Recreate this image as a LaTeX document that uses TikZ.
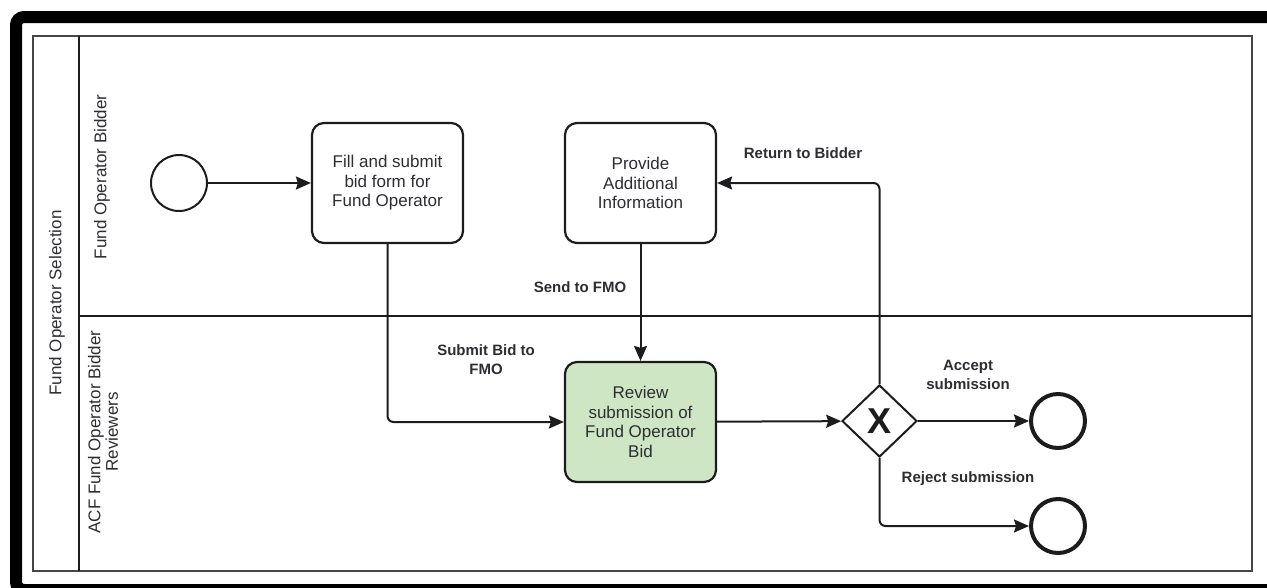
\documentclass[tikz,border=0pt]{standalone}
\usepackage{fontspec}
\setmainfont{Liberation Sans}
\usetikzlibrary{arrows.meta,shapes.geometric}
\definecolor{tgreen}{RGB}{207,230,196}
\definecolor{ink}{RGB}{28,28,30}
\definecolor{txt}{RGB}{45,45,50}
\definecolor{poolc}{RGB}{70,70,74}
\begin{document}
\begin{tikzpicture}[x=1pt,y=-1pt,
  task/.style={draw=ink, rounded corners=12pt, line width=2.2pt, minimum width=151pt, minimum height=120pt, align=center, text=txt, inner sep=2pt, font=\fontsize{17}{19.5}\selectfont},
  startev/.style={circle, draw=ink, line width=2pt, minimum size=56pt, inner sep=0pt},
  endev/.style={circle, draw=ink, line width=4pt, minimum size=54pt, inner sep=0pt},
  gwnode/.style={diamond, aspect=1, draw=ink, line width=2pt, minimum width=75pt, minimum height=72pt, inner sep=0pt, text=ink, font=\fontsize{36}{36}\bfseries},
  conn/.style={draw=ink, line width=2pt, rounded corners=6pt, -{Stealth[length=15pt,width=13pt,inset=2pt]}},
  elbl/.style={text=txt, align=center, inner sep=0pt, font=\fontsize{15}{19}\bfseries},
  lanelbl/.style={text=txt, rotate=90, align=center, inner sep=0pt, font=\fontsize{17}{17.5}\selectfont}
]
\useasboundingbox (0,0) rectangle (1267,587);
\clip (0,0) rectangle (1267,587);
% outer black frame
\draw[line width=12pt, rounded corners=8pt] (16,17) rectangle (1300,590);
% pool and lanes
\draw[poolc, line width=2pt] (33,36) rectangle (1252,571);
\draw[ink, line width=2pt] (79,36) -- (79,571);
\draw[ink, line width=2pt] (79,316) -- (1252,316);
\node[lanelbl] (pool) at (57,303) {Fund Operator Selection};
\node[lanelbl] (lane1) at (102,177) {Fund Operator Bidder};
\node[lanelbl] (lane2) at (103,432) {ACF Fund Operator Bidder\\Reviewers};
% nodes
\node[startev] (start) at (179,183) {};
\node[task] (fill) at (387.5,183) {Fill and submit\\bid form for\\Fund Operator};
\node[task] (prov) at (640.5,183) {Provide\\Additional\\Information};
\node[task, fill=tgreen] (rev) at (640.5,422) {Review\\submission of\\Fund Operator\\Bid};
\node[gwnode] (gw) at (879.5,421) {X};
\node[endev] (end1) at (1058,421) {};
\node[endev] (end2) at (1058,526) {};
% connectors
\draw[conn] (start) -- (fill);
\draw[conn] (fill.south) |- (rev.west);
\draw[conn] (prov) -- (rev);
\draw[conn] (rev) -- (gw);
\draw[conn] (gw.north) |- (prov.east);
\draw[conn] (gw) -- (end1);
\draw[conn] (gw.south) |- (end2.west);
% labels
\node[elbl] (lret) at (803,153) {Return to Bidder};
\node[elbl] (lsend) at (580,287) {Send to FMO};
\node[elbl] (lsub) at (486,360) {Submit Bid to\\FMO};
\node[elbl] (lacc) at (968,375) {Accept\\submission};
\node[elbl] (lrej) at (968,479) {Reject submission};
\end{tikzpicture}
\end{document}
